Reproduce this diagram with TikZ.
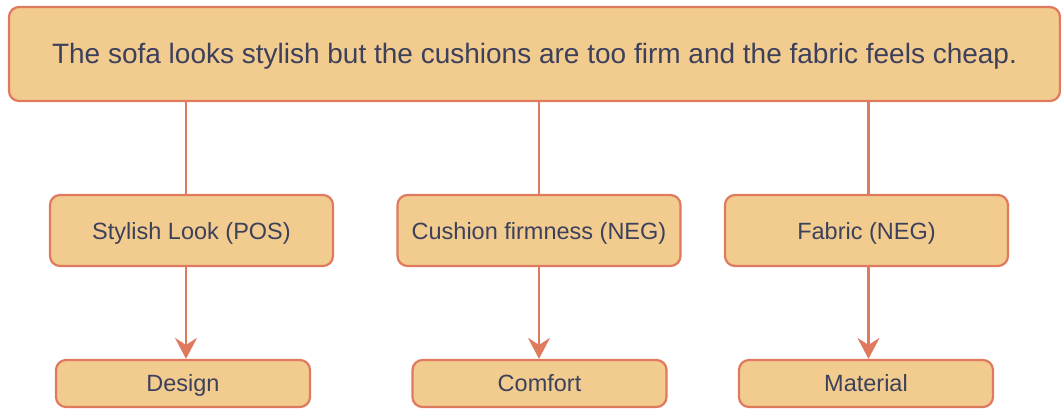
\documentclass[tikz,border=0pt]{standalone}
\usepackage{fontspec}
\setmainfont{Liberation Sans}
\usetikzlibrary{arrows.meta,calc}
\definecolor{boxfill}{HTML}{F2CC8F}
\definecolor{boxline}{HTML}{E07A5F}
\definecolor{txt}{HTML}{3D405B}
\tikzset{
  box/.style={draw=boxline, fill=boxfill, line width=2.2pt, rounded corners=10pt,
    text=txt, inner sep=0pt, anchor=center, text depth=0pt},
  topbox/.style={box, minimum width=1051pt, minimum height=94pt, text height=18.5pt,
    font=\fontsize{28}{32}\selectfont},
  midbox/.style={box, minimum width=283pt, minimum height=71pt, text height=17pt,
    font=\fontsize{23.5}{27}\selectfont},
  lowbox/.style={box, minimum width=254pt, minimum height=47pt, text height=16.6pt,
    font=\fontsize{23.5}{27}\selectfont},
  link/.style={draw=boxline, line width=2.2pt},
  arrowlink/.style={link, -{Stealth[length=21pt,width=22pt,inset=7pt]}}
}
\begin{document}
\begin{tikzpicture}[x=1pt,y=-1pt]
\useasboundingbox (0,0) rectangle (1061,408);
\node[topbox] (top) at (534.5,54) {The sofa looks stylish but the cushions are too firm and the fabric feels cheap.};
\node[midbox] (m1) at (191.5,230.5) {Stylish Look (POS)};
\node[midbox] (m2) at (539,230.5) {Cushion firmness (NEG)};
\node[midbox] (m3) at (866.5,230.5) {Fabric (NEG)};
\node[lowbox] (b1) at (183,383.5) {Design};
\node[lowbox] (b2) at (539.5,383.5) {Comfort};
\node[lowbox] (b3) at (866,383.5) {Material};
\coordinate (x1) at (186,0);
\coordinate (x2) at (539,0);
\coordinate (x3) at (868.5,0);
\draw[link] (top.south -| x1) -- (m1.north -| x1);
\draw[link] (top.south -| x2) -- (m2.north -| x2);
\draw[link] (top.south -| x3) -- (m3.north -| x3);
\draw[arrowlink] (m1.south -| x1) -- (b1.north -| x1);
\draw[arrowlink] (m2.south -| x2) -- (b2.north -| x2);
\draw[arrowlink] (m3.south -| x3) -- (b3.north -| x3);
\end{tikzpicture}
\end{document}
